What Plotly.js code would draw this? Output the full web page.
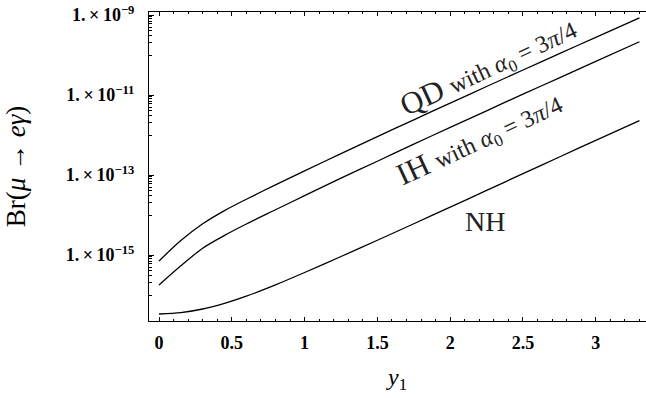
<!DOCTYPE html>
<html>
<head>
<meta charset="utf-8">
<script src="https://cdn.plot.ly/plotly-3.0.1.min.js"></script>
<style>html,body{margin:0;padding:0;background:#fff;}#chart{width:646px;height:398px;}</style>
</head>
<body>
<div id="chart"></div>
<script>
// y1 values (x axis)
const y1 = [0, 0.15, 0.3, 0.45, 0.6, 0.8, 1.0, 1.25, 1.5, 1.75, 2.0, 2.25, 2.5, 2.75, 3.0, 3.3];
// Br(mu -> e gamma) for each case
const brQD = [7.08e-16, 2.29e-15, 6.03e-15, 1.29e-14, 2.48e-14, 5.69e-14, 1.27e-13, 3.43e-13, 9.12e-13, 2.40e-12, 6.27e-12, 1.63e-11, 4.22e-11, 1.08e-10, 2.77e-10, 8.51e-10];
const brIH = [1.78e-16, 5.37e-16, 1.48e-15, 3.09e-15, 5.96e-15, 1.35e-14, 3.05e-14, 8.32e-14, 2.21e-13, 5.89e-13, 1.55e-12, 4.03e-12, 1.05e-11, 2.69e-11, 6.92e-11, 2.14e-10];
const brNH = [3.35e-17, 3.63e-17, 4.47e-17, 6.17e-17, 9.33e-17, 1.79e-16, 3.65e-16, 9.16e-16, 2.34e-15, 6.05e-15, 1.57e-14, 4.11e-14, 1.08e-13, 2.82e-13, 7.36e-13, 2.29e-12];
// tick labels
const xTickVals = [0, 0.5, 1, 1.5, 2, 2.5, 3];
const xTickText = ['0', '0.5', '1', '1.5', '2', '2.5', '3'];
const yTickExps = [-15, -13, -11, -9];
const yTickVals = yTickExps.map(e => Math.pow(10, e));
const yTickText = yTickExps.map(e => '1.\u2009×\u200910<sup>−' + (-e) + '</sup>');
const yMinorVals = [];
yTickExps.forEach(e => { for (let m = 1; m <= 9; m++) yMinorVals.push(m * Math.pow(10, e - 1)); });

const serif = '"Liberation Serif", "DejaVu Serif", serif';
const line = {color: '#000', width: 1.3, shape: 'spline', smoothing: 0.8};
const traces = [
  {x: y1, y: brQD, mode: 'lines', line: line, name: 'QD'},
  {x: y1, y: brIH, mode: 'lines', line: line, name: 'IH'},
  {x: y1, y: brNH, mode: 'lines', line: line, name: 'NH'}
];

const small = "<span style='font-size:24px'>";
const layout = {
  width: 646, height: 398,
  margin: {l: 149, r: 0, t: 12, b: 77},
  paper_bgcolor: '#fff', plot_bgcolor: '#fff',
  showlegend: false,
  font: {family: serif, color: '#000'},
  xaxis: {
    range: [-0.0687, 3.345],
    tickvals: xTickVals, ticktext: xTickText,
    ticks: 'inside', ticklen: 4, tickwidth: 1, tickcolor: '#000',
    showline: true, linecolor: '#000', linewidth: 1, mirror: 'ticks',
    showgrid: false, zeroline: false,
    tickfont: {family: serif, size: 18, weight: 'bold', color: '#000'},
    ticklabelstandoff: 5,
    minor: {dtick: 0.1, tick0: 0, ticks: 'inside', ticklen: 2, tickcolor: '#000', showgrid: false},
    title: {text: '<i>y</i><sub>1</sub>', font: {family: serif, size: 24, color: '#000'}, standoff: 16}
  },
  yaxis: {
    type: 'log',
    range: [-16.65, -8.925],
    tickvals: yTickVals, ticktext: yTickText,
    ticks: 'inside', ticklen: 5, tickwidth: 1, tickcolor: '#000',
    showline: true, linecolor: '#000', linewidth: 1, mirror: false,
    showgrid: false, zeroline: false,
    tickfont: {family: serif, size: 18, weight: 'bold', color: '#000'},
    ticklabelstandoff: 10,
    minor: {tickvals: yMinorVals, ticks: 'inside', ticklen: 2.5, tickcolor: '#000', showgrid: false},
    title: {text: 'Br(<i>μ</i> → <i>eγ</i>)', font: {family: serif, size: 27, color: '#000'}, standoff: 32}
  },
  annotations: [
    {x: 2.26, y: -10.3, xref: 'x', yref: 'y', text: 'QD ' + small + 'with <i>α</i><sub>0</sub> = 3<i>π</i>/4</span>',
     showarrow: false, textangle: -25, font: {family: serif, size: 31, color: '#222'}, xanchor: 'center', yanchor: 'middle'},
    {x: 2.2, y: -12.1, xref: 'x', yref: 'y', text: 'IH ' + small + 'with <i>α</i><sub>0</sub> = 3<i>π</i>/4</span>',
     showarrow: false, textangle: -25, font: {family: serif, size: 31, color: '#222'}, xanchor: 'center', yanchor: 'middle'},
    {x: 2.24, y: -14.17, xref: 'x', yref: 'y', text: 'NH',
     showarrow: false, font: {family: serif, size: 28, color: '#222'}, xanchor: 'center', yanchor: 'middle'}
  ]
};

Plotly.newPlot('chart', traces, layout, {staticPlot: true, displayModeBar: false});
</script>
</body>
</html>
